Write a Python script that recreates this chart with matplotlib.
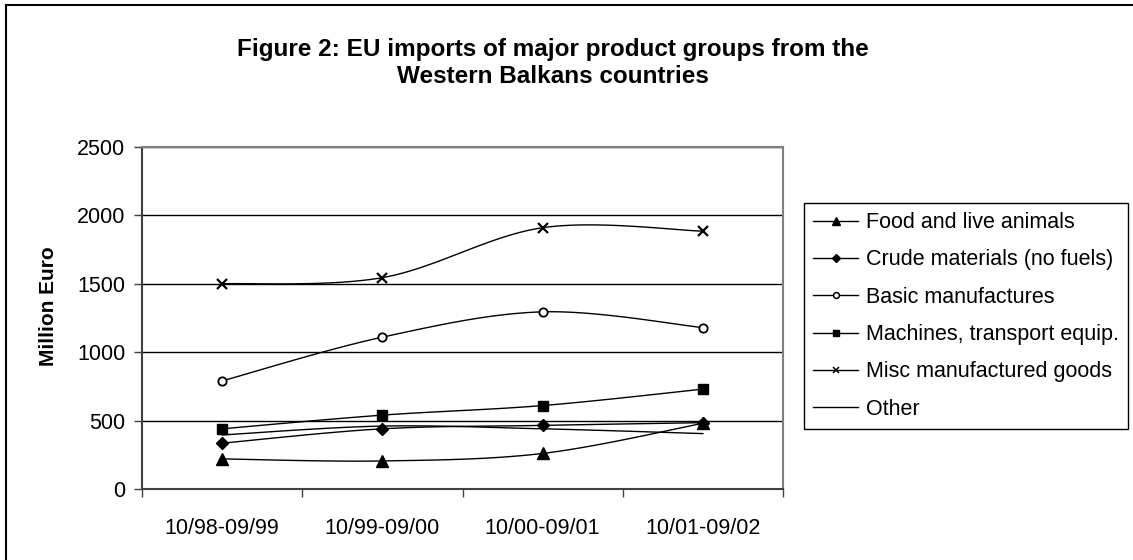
import numpy as np
import matplotlib.pyplot as plt
from matplotlib.lines import Line2D
from matplotlib.patches import Rectangle

plt.rcParams['font.family'] = ['Liberation Sans', 'DejaVu Sans']

periods = ["10/98-09/99", "10/99-09/00", "10/00-09/01", "10/01-09/02"]
food = [220, 205, 260, 480]
crude = [335, 440, 465, 485]
basic = [790, 1110, 1295, 1180]
machines = [440, 540, 610, 730]
misc = [1500, 1545, 1910, 1885]
other = [395, 460, 440, 405]

series = [
    ("Food and live animals", food, dict(marker="^", ms=8, mfc="black")),
    ("Crude materials (no fuels)", crude, dict(marker="D", ms=6, mfc="black")),
    ("Basic manufactures", basic, dict(marker="o", ms=6, mfc="white", mew=1.3)),
    ("Machines, transport equip.", machines, dict(marker="s", ms=6.5, mfc="black")),
    ("Misc manufactured goods", misc, dict(marker="x", ms=7, mew=1.6)),
    ("Other", other, dict(marker=None)),
]


def smooth(x, y, n=40):
    # bezier smoothing with control points taken from the neighbouring points
    x = np.asarray(x, float)
    y = np.asarray(y, float)
    px = np.concatenate([[x[0]], x, [x[-1]]])
    py = np.concatenate([[y[0]], y, [y[-1]]])
    t = np.linspace(0, 1, n)
    xs, ys = [], []
    for i in range(1, len(x)):
        p0 = np.array([px[i], py[i]])
        p3 = np.array([px[i + 1], py[i + 1]])
        c1 = p0 + (p3 - np.array([px[i - 1], py[i - 1]])) / 6
        c2 = p3 - (np.array([px[i + 2], py[i + 2]]) - p0) / 6
        b = ((1 - t) ** 3)[:, None] * p0 + (3 * (1 - t) ** 2 * t)[:, None] * c1 \
            + (3 * (1 - t) * t ** 2)[:, None] * c2 + (t ** 3)[:, None] * p3
        xs.append(b[:, 0])
        ys.append(b[:, 1])
    return np.concatenate(xs), np.concatenate(ys)


W, H = 1133, 560
fig = plt.figure(figsize=(W / 100, H / 100), dpi=100)

# outer chart frame (only top and left edges fall inside the image)
fig.patches.append(Rectangle((6 / W, -0.1), 1.2, 1 - 5 / H + 0.1, transform=fig.transFigure,
                             fill=False, ec="black", lw=1.5))

ax = fig.add_axes([142 / W, 1 - 489 / H, (783 - 142) / W, (489 - 147) / H])
x = np.arange(len(periods)) + 0.5

for name, vals, st in series:
    sx, sy = smooth(x, vals)
    ax.plot(sx, sy, color="black", lw=1.0, zorder=3)
    if st["marker"]:
        ax.plot(x, vals, ls="none", color="black", zorder=4, **st)

ax.set_xlim(0, len(periods))
ax.set_ylim(0, 2500)
ax.set_yticks(range(0, 2501, 500))
ax.set_xticks(range(0, len(periods) + 1))
ax.set_xticklabels([])
ax.set_xticks(x, minor=True)
ax.set_xticklabels(periods, minor=True)
ax.tick_params(axis="x", which="major", direction="out", length=6, width=1, color="#404040")
ax.tick_params(axis="x", which="minor", length=0, pad=21, labelsize=15.5)
ax.tick_params(axis="y", direction="out", length=6, width=1, color="#404040", pad=6, labelsize=15.5)
ax.grid(axis="y", color="black", lw=1.0, zorder=1)

for s in ["left", "bottom"]:
    ax.spines[s].set_color("#404040")
    ax.spines[s].set_linewidth(1.5)
for s in ["top", "right"]:
    ax.spines[s].set_color("#808080")
    ax.spines[s].set_linewidth(1.5)

fig.text(48 / W, 1 - 306 / H, "Million Euro", rotation=90, ha="center", va="center",
         fontsize=15, fontweight="bold")
fig.text(553 / W, 1 - 83 / H,
         "Figure 2: EU imports of major product groups from the\nWestern Balkans countries",
         ha="center", va="baseline", multialignment="center", fontsize=17.5, fontweight="bold")

handles = []
for name, vals, st in series:
    kw = dict(st)
    if kw["marker"]:
        kw["ms"] = kw["ms"] * 0.7
        if "mew" in kw:
            kw["mew"] = 1.1
    else:
        kw.pop("marker")
    handles.append(Line2D([], [], color="black", lw=1.0, **kw))

leg = fig.legend(handles, [s[0] for s in series], loc="upper left",
                 bbox_to_anchor=(804 / W, 1 - 203 / H), fontsize=15.5,
                 frameon=True, fancybox=False, edgecolor="black", framealpha=1,
                 handlelength=2.1, handletextpad=0.35, labelspacing=0.76, borderpad=0.42,
                 borderaxespad=0)
leg.get_frame().set_linewidth(1.0)

fig.savefig("out.png", dpi=100)
